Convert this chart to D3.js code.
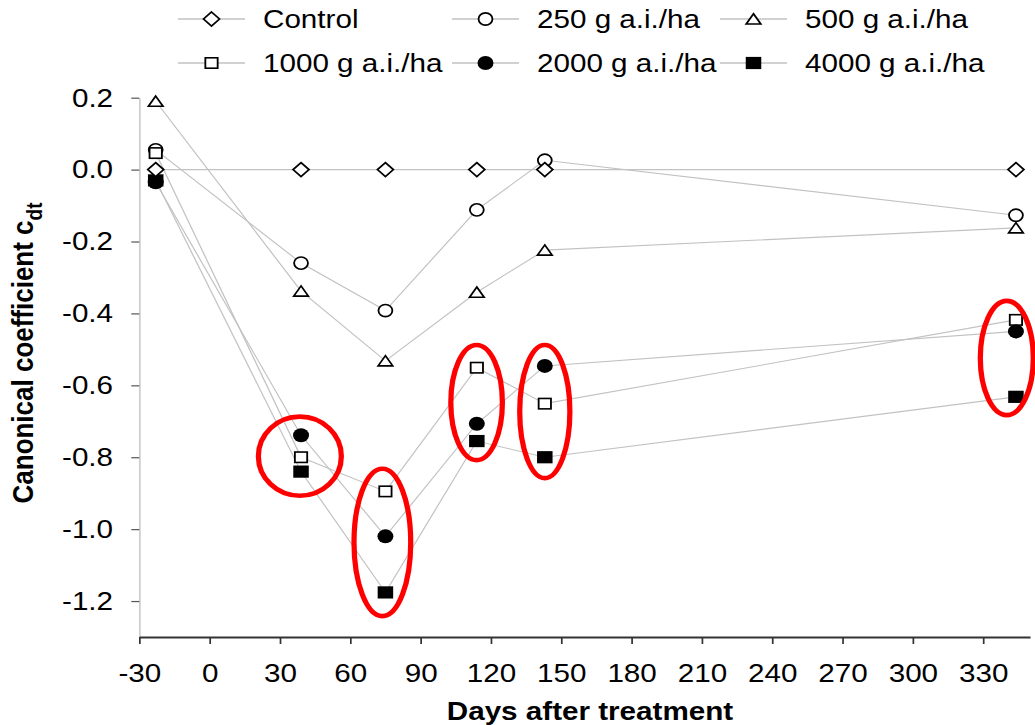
<!DOCTYPE html>
<html>
<head>
<meta charset="utf-8">
<script src="https://cdn.jsdelivr.net/npm/d3@7"></script>
<style>
  body { margin: 0; background: #fff; }
  svg { display: block; font-family: Arial, "Liberation Sans", sans-serif; }
</style>
</head>
<body>
<script>
// data
const days = [-23, 39, 75, 114, 143, 344];
const control = [0, 0, 0, 0, 0, 0];
const g250 = [0.055, -0.26, -0.392, -0.112, 0.026, -0.127];
const g500 = [0.19, -0.338, -0.532, -0.341, -0.224, -0.162];
const g1000 = [0.046, -0.80, -0.895, -0.551, -0.651, -0.418];
const g2000 = [-0.035, -0.739, -1.02, -0.707, -0.546, -0.45];
const g4000 = [-0.03, -0.84, -1.176, -0.755, -0.80, -0.632];
const seriesNames = ["Control", "250 g a.i./ha", "500 g a.i./ha",
                     "1000 g a.i./ha", "2000 g a.i./ha", "4000 g a.i./ha"];
const xTicks = [-30, 0, 30, 60, 90, 120, 150, 180, 210, 240, 270, 300, 330];
const yTicks = [0.2, 0.0, -0.2, -0.4, -0.6, -0.8, -1.0, -1.2];

// red circled groups (centre day/value, half width in days / half height in value)
const circledDays = [38.5, 73.7, 113.9, 143.0, 340.1];
const circledValues = [-0.797, -1.037, -0.648, -0.673, -0.524];
const circledHalfDays = [17.7, 12.1, 11.0, 10.7, 11.3];
const circledHalfValues = [0.110, 0.205, 0.160, 0.185, 0.159];

const W = 1035, H = 725;
const S = 1.14; // the original figure is stretched horizontally

const svg = d3.select("body").append("svg")
    .attr("width", W)
    .attr("height", H)
    .attr("viewBox", `0 0 ${W / S} ${H}`)
    .attr("preserveAspectRatio", "none");

const x = d3.scaleLinear().domain([-30, 350]).range([139.3 / S, 1030 / S]);
const y = d3.scaleLinear().domain([-1.3, 0.2]).range([637, 97.7]);

const lineGrey = "#c2c2c2";

// axes
const yAxis = svg.append("g")
    .attr("transform", `translate(${x(-30)},0)`)
    .call(d3.axisLeft(y).tickValues(yTicks).tickSize(7).tickSizeOuter(0)
        .tickPadding(16).tickFormat(d => d.toFixed(1)));
yAxis.select(".domain").attr("stroke", "#cfcfcf").attr("stroke-width", 1.6);
yAxis.selectAll(".tick line").attr("stroke", "#555").attr("stroke-width", 1.2);
yAxis.selectAll(".tick text").attr("font-size", 26).attr("fill", "#000")
    .attr("font-family", "Arial, 'Liberation Sans', sans-serif");

const xAxis = svg.append("g")
    .attr("transform", `translate(0,${y(-1.3)})`)
    .call(d3.axisBottom(x).tickValues(xTicks).tickSize(7).tickSizeOuter(0)
        .tickFormat(d => String(d)));
xAxis.select(".domain").attr("stroke", "#333").attr("stroke-width", 2);
xAxis.selectAll(".tick line").attr("stroke", "#333").attr("stroke-width", 1.5);
xAxis.selectAll(".tick text").attr("font-size", 26).attr("fill", "#000")
    .attr("font-family", "Arial, 'Liberation Sans', sans-serif")
    .attr("y", 45).attr("dy", 0);

// axis titles
svg.append("text")
    .attr("x", 590 / S)
    .attr("y", 720)
    .attr("text-anchor", "middle")
    .attr("font-size", 26)
    .attr("font-weight", "bold")
    .text("Days after treatment");

const yTitle = svg.append("text")
    .attr("transform", `translate(${33 / S},353) rotate(-90)`)
    .attr("text-anchor", "middle")
    .attr("font-size", 26)
    .attr("font-weight", "bold");
yTitle.append("tspan").text("Canonical coefficient c");
yTitle.append("tspan").attr("font-size", 19).attr("dy", 8).text("dt");

// marker shapes
function marker(g, type, cx, cy) {
    if (type === "diamond") {
        g.append("path").attr("d", `M${cx},${cy - 7}L${cx + 7},${cy}L${cx},${cy + 7}L${cx - 7},${cy}Z`)
            .attr("fill", "#fff").attr("stroke", "#000").attr("stroke-width", 1.6);
    } else if (type === "circle") {
        g.append("circle").attr("cx", cx).attr("cy", cy).attr("r", 6.1)
            .attr("fill", "#fff").attr("stroke", "#000").attr("stroke-width", 1.6);
    } else if (type === "triangle") {
        g.append("path").attr("d", `M${cx},${cy - 5.2}L${cx + 6.4},${cy + 5}L${cx - 6.4},${cy + 5}Z`)
            .attr("fill", "#fff").attr("stroke", "#000").attr("stroke-width", 1.6);
    } else if (type === "square") {
        g.append("rect").attr("x", cx - 5.4).attr("y", cy - 5.2).attr("width", 10.8).attr("height", 10.4)
            .attr("fill", "#fff").attr("stroke", "#000").attr("stroke-width", 1.6);
    } else if (type === "dot") {
        g.append("circle").attr("cx", cx).attr("cy", cy).attr("r", 7)
            .attr("fill", "#000");
    } else if (type === "block") {
        g.append("rect").attr("x", cx - 6.8).attr("y", cy - 6.1).attr("width", 13.6).attr("height", 12.2)
            .attr("fill", "#000");
    }
}

const markerTypes = ["diamond", "circle", "triangle", "square", "dot", "block"];
const seriesValues = [control, g250, g500, g1000, g2000, g4000];

const series = seriesNames.map((name, i) => ({
    name: name,
    type: markerTypes[i],
    points: days.map((d, j) => ({ day: d, value: seriesValues[i][j] }))
}));

const line = d3.line().x(d => x(d.day)).y(d => y(d.value));

// lines under markers
svg.append("g").selectAll("path")
    .data(series)
    .enter()
    .append("path")
        .attr("d", d => line(d.points))
        .attr("fill", "none")
        .attr("stroke", lineGrey)
        .attr("stroke-width", 1.1);

// markers, drawn in the stacking order seen in the figure
const drawOrder = [1, 2, 3, 5, 4, 0];
const markersG = svg.append("g");
drawOrder.forEach(i => {
    series[i].points.forEach(p => marker(markersG, series[i].type, x(p.day), y(p.value)));
});

// red annotation ellipses
svg.append("g").selectAll("ellipse")
    .data(circledDays.map((d, i) => ({
        day: d, value: circledValues[i], hd: circledHalfDays[i], hv: circledHalfValues[i]
    })))
    .enter()
    .append("ellipse")
        .attr("cx", d => x(d.day))
        .attr("cy", d => y(d.value))
        .attr("rx", d => x(d.day + d.hd) - x(d.day))
        .attr("ry", d => y(d.value - d.hv) - y(d.value))
        .attr("fill", "none")
        .attr("stroke", "#ff0000")
        .attr("stroke-width", 4.6);

// legend: 3 columns x 2 rows
const legendCols = [178, 452, 720];
const legendRows = [19, 63];
const legend = svg.append("g");
series.forEach((s, i) => {
    const col = i % 3, row = Math.floor(i / 3);
    const x0 = legendCols[col] / S, cy = legendRows[row];
    legend.append("line")
        .attr("x1", x0).attr("x2", x0 + 67 / S)
        .attr("y1", cy).attr("y2", cy)
        .attr("stroke", lineGrey).attr("stroke-width", 1.3);
    marker(legend, s.type, x0 + 33.5 / S, cy);
    legend.append("text")
        .attr("x", x0 + 85 / S)
        .attr("y", cy + 9)
        .attr("font-size", 26)
        .text(s.name);
});
</script>
</body>
</html>
